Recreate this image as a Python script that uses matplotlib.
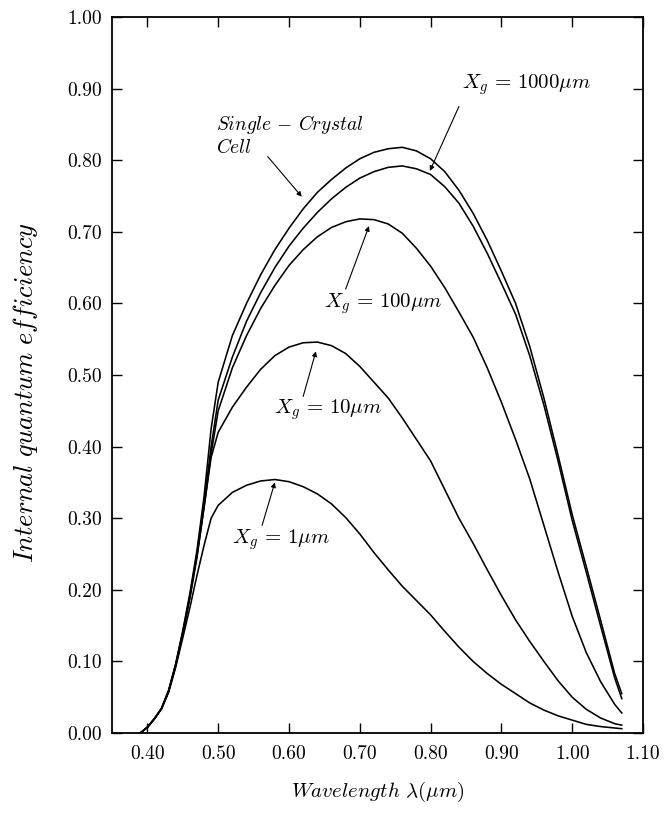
import matplotlib
matplotlib.use("Agg")
import matplotlib.pyplot as plt

plt.rcParams["mathtext.fontset"] = "cm"
plt.rcParams["axes.unicode_minus"] = False

# wavelength grid (um) shared by all curves
wavelength = [0.39, 0.40, 0.41, 0.42, 0.43, 0.44, 0.45, 0.46, 0.47, 0.48, 0.49,
              0.50, 0.52, 0.54, 0.56, 0.58, 0.60, 0.62, 0.64, 0.66, 0.68, 0.70,
              0.72, 0.74, 0.76, 0.78, 0.80, 0.82, 0.84, 0.86, 0.88, 0.90, 0.92,
              0.94, 0.96, 0.98, 1.00, 1.02, 1.04, 1.06, 1.07]

single_crystal = [0.000, 0.008, 0.020, 0.035, 0.060, 0.097, 0.143, 0.195, 0.255, 0.330, 0.425,
                  0.490, 0.555, 0.600, 0.640, 0.675, 0.705, 0.732, 0.755, 0.773, 0.789, 0.802,
                  0.811, 0.816, 0.818, 0.813, 0.802, 0.784, 0.758, 0.726, 0.688, 0.645, 0.600,
                  0.540, 0.468, 0.388, 0.305, 0.232, 0.158, 0.083, 0.055]

xg_1000 = [0.000, 0.008, 0.020, 0.034, 0.059, 0.096, 0.141, 0.192, 0.250, 0.320, 0.400,
           0.465, 0.525, 0.575, 0.615, 0.650, 0.680, 0.705, 0.727, 0.746, 0.762, 0.775,
           0.784, 0.790, 0.792, 0.788, 0.780, 0.763, 0.740, 0.708, 0.670, 0.628, 0.585,
           0.527, 0.458, 0.380, 0.297, 0.224, 0.150, 0.077, 0.048]

xg_100 = [0.000, 0.008, 0.020, 0.034, 0.058, 0.095, 0.140, 0.190, 0.248, 0.315, 0.390,
          0.450, 0.510, 0.555, 0.593, 0.625, 0.653, 0.675, 0.693, 0.706, 0.714, 0.718,
          0.717, 0.711, 0.698, 0.677, 0.652, 0.622, 0.588, 0.553, 0.510, 0.462, 0.410,
          0.355, 0.290, 0.225, 0.163, 0.112, 0.072, 0.040, 0.028]

xg_10 = [0.000, 0.008, 0.020, 0.034, 0.058, 0.094, 0.139, 0.188, 0.245, 0.315, 0.385,
         0.420, 0.455, 0.483, 0.508, 0.527, 0.539, 0.545, 0.546, 0.541, 0.530, 0.512,
         0.490, 0.468, 0.440, 0.410, 0.380, 0.340, 0.300, 0.265, 0.228, 0.192, 0.158,
         0.128, 0.100, 0.073, 0.050, 0.033, 0.021, 0.013, 0.011]

xg_1 = [0.000, 0.008, 0.020, 0.034, 0.057, 0.092, 0.133, 0.175, 0.220, 0.262, 0.300,
        0.318, 0.336, 0.346, 0.352, 0.354, 0.351, 0.344, 0.334, 0.320, 0.301, 0.278,
        0.252, 0.228, 0.205, 0.185, 0.165, 0.142, 0.120, 0.100, 0.083, 0.068, 0.055,
        0.042, 0.032, 0.024, 0.018, 0.012, 0.009, 0.007, 0.006]

x_ticks = [0.40, 0.50, 0.60, 0.70, 0.80, 0.90, 1.00, 1.10]
y_ticks = [0.00, 0.10, 0.20, 0.30, 0.40, 0.50, 0.60, 0.70, 0.80, 0.90, 1.00]

fig = plt.figure(figsize=(6.67, 8.14), dpi=100)
ax = fig.add_axes([112 / 667, 1 - 733 / 814, 531 / 667, 716 / 814])

for curve in [single_crystal, xg_1000, xg_100, xg_10, xg_1]:
    ax.plot(wavelength, curve, color="black", linewidth=1.15)

arrow = dict(arrowstyle="-|>", color="black", lw=0.8, mutation_scale=7,
             shrinkA=0, shrinkB=0)

ax.text(0.845, 0.905, r"$X_g\,=\,1000\mu m$", fontsize=15, ha="left", va="center")
ax.annotate("", xy=(0.799, 0.785), xytext=(0.84, 0.875), arrowprops=arrow)

ax.text(0.497, 0.85, r"$Single\,-\,Crystal$", fontsize=14, ha="left", va="center")
ax.text(0.497, 0.818, r"$Cell$", fontsize=14, ha="left", va="center")
ax.annotate("", xy=(0.618, 0.749), xytext=(0.570, 0.805), arrowprops=arrow)

ax.text(0.650, 0.60, r"$X_g\,=\,100\mu m$", fontsize=15, ha="left", va="center")
ax.annotate("", xy=(0.713, 0.708), xytext=(0.680, 0.62), arrowprops=arrow)

ax.text(0.579, 0.451, r"$X_g\,=\,10\mu m$", fontsize=15, ha="left", va="center")
ax.annotate("", xy=(0.638, 0.533), xytext=(0.620, 0.470), arrowprops=arrow)

ax.text(0.520, 0.270, r"$X_g\,=\,1\mu m$", fontsize=15, ha="left", va="center")
ax.annotate("", xy=(0.580, 0.350), xytext=(0.562, 0.290), arrowprops=arrow)

ax.set_xlim(0.35, 1.10)
ax.set_ylim(0.0, 1.00)
ax.set_xticks(x_ticks)
ax.set_yticks(y_ticks)
ax.set_xticklabels([f"{t:.2f}" for t in x_ticks], family="cmr10", fontsize=14)
ax.set_yticklabels([f"{t:.2f}" for t in y_ticks], family="cmr10", fontsize=14)

ax.tick_params(direction="in", top=True, right=True, length=7, width=1.0)
ax.tick_params(axis="x", pad=9)
ax.tick_params(axis="y", pad=7)

for side in ax.spines.values():
    side.set_linewidth(1.3)

ax.set_xlabel(r"$Wavelength\ \lambda(\mu m)$", fontsize=15, labelpad=12)
ax.set_ylabel(r"$Internal\ quantum\ efficiency$", fontsize=19, va="center")
ax.yaxis.set_label_coords(-0.162, 0.476)

plt.savefig("out.png", dpi=100)
plt.close()
